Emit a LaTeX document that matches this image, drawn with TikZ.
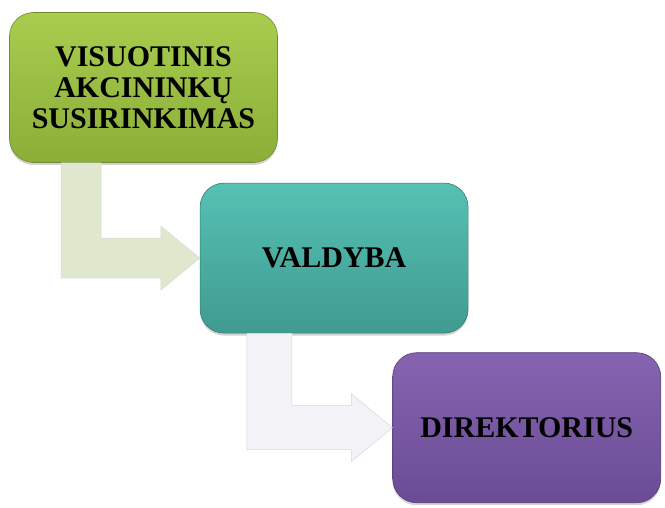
\documentclass[tikz,border=0pt]{standalone}
\usepackage{fontspec}
\setmainfont{Liberation Serif}
\usetikzlibrary{positioning,calc,shadows}
\definecolor{greentop}{HTML}{A8CD4E}
\definecolor{greenbot}{HTML}{8BAE38}
\definecolor{tealtop}{HTML}{56C1B4}
\definecolor{tealbot}{HTML}{409B90}
\definecolor{purpletop}{HTML}{8663B0}
\definecolor{purplebot}{HTML}{6A4C95}
\definecolor{arrowgreen}{HTML}{DFE8CD}
\definecolor{arrowlav}{HTML}{F3F2F7}
\begin{document}
\begin{tikzpicture}
    \tikzstyle{levelbox} = [rectangle, rounded corners=24pt, minimum width=268pt, minimum height=150pt, text centered, align=center, font=\bfseries\fontsize{30}{31}\selectfont, drop shadow={opacity=0.35, shadow xshift=0pt, shadow yshift=-2.5pt}]
    \tikzstyle{greenbox} = [levelbox, top color=greentop, bottom color=greenbot, draw=greenbot!80!black, line width=0.6pt]
    \tikzstyle{tealbox} = [levelbox, top color=tealtop, bottom color=tealbot, draw=tealbot!80!black, line width=0.6pt]
    \tikzstyle{purplebox} = [levelbox, top color=purpletop, bottom color=purplebot, draw=purplebot!80!black, line width=0.6pt]
    \tikzstyle{flowarrow} = [draw=black!15, line width=0.5pt, line join=miter]

    \useasboundingbox (0,0) rectangle (665pt,-508pt);

    % Levels
    \node [greenbox] (meeting) at (143.5pt,-87.5pt) {VISUOTINIS\\AKCININKŲ\\SUSIRINKIMAS};
    \node [tealbox, below right=20pt and -78pt of meeting] (board) {VALDYBA};
    \node [purplebox, below right=19pt and -76pt of board] (director) {DIREKTORIUS};

    % Connections
    \draw [flowarrow, fill=arrowgreen] let \p1=(meeting.south west), \p2=(board.west) in
        (\x1+52pt,\y1) -- (\x1+92pt,\y1) -- (\x1+92pt,\y2+20pt) -- (\x2-39pt,\y2+20pt)
        -- (\x2-39pt,\y2+32pt) -- (\p2) -- (\x2-39pt,\y2-32pt) -- (\x2-39pt,\y2-20pt)
        -- (\x1+52pt,\y2-20pt) -- cycle;
    \draw [flowarrow, fill=arrowlav] let \p1=(board.south west), \p2=(director.west) in
        (\x1+47pt,\y1) -- (\x1+92pt,\y1) -- (\x1+92pt,\y2+22pt) -- (\x2-41pt,\y2+22pt)
        -- (\x2-41pt,\y2+34pt) -- (\p2) -- (\x2-41pt,\y2-34pt) -- (\x2-41pt,\y2-22pt)
        -- (\x1+47pt,\y2-22pt) -- cycle;
\end{tikzpicture}
\end{document}
